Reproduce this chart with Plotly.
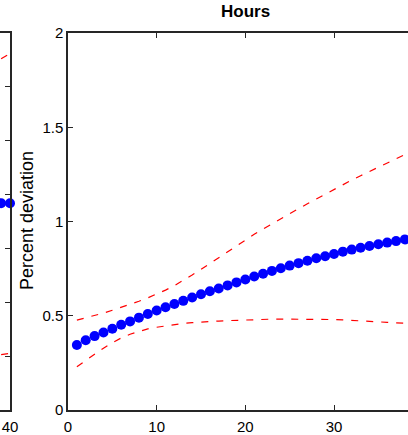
import plotly.graph_objects as go

# ---- data ----
periods = list(range(1, 41))
hours_irf = [0.345, 0.370, 0.392, 0.411, 0.431, 0.452, 0.470, 0.490, 0.509, 0.528,
             0.545, 0.562, 0.579, 0.597, 0.614, 0.630, 0.645, 0.661, 0.677, 0.692,
             0.708, 0.723, 0.738, 0.752, 0.766, 0.779, 0.792, 0.805, 0.816, 0.828,
             0.840, 0.851, 0.861, 0.870, 0.879, 0.888, 0.896, 0.905, 0.913, 0.921]
hours_upper = [0.477, 0.488, 0.500, 0.514, 0.529, 0.544, 0.560, 0.577, 0.595, 0.614,
               0.636, 0.660, 0.687, 0.716, 0.746, 0.777, 0.808, 0.840, 0.872, 0.903,
               0.932, 0.960, 0.988, 1.015, 1.042, 1.068, 1.094, 1.120, 1.145, 1.170,
               1.195, 1.220, 1.243, 1.266, 1.288, 1.310, 1.333, 1.356, 1.378, 1.400]
hours_lower = [0.230, 0.263, 0.296, 0.328, 0.357, 0.382, 0.402, 0.418, 0.430, 0.439,
               0.447, 0.454, 0.459, 0.463, 0.467, 0.470, 0.472, 0.474, 0.476, 0.478,
               0.480, 0.481, 0.482, 0.482, 0.482, 0.482, 0.482, 0.481, 0.481, 0.480,
               0.478, 0.476, 0.473, 0.470, 0.467, 0.465, 0.462, 0.460, 0.459, 0.458]

# neighbouring panel (only its last periods are visible)
prev_periods = [39, 40]
prev_irf = [3.84, 3.84]
prev_upper = [6.52, 6.62]
prev_lower = [1.03, 1.05]

y_ticks = [0, 0.5, 1, 1.5, 2]
x_ticks = [0, 10, 20, 30, 40]
title_text = "Hours"
ylabel_text = "Percent deviation"

W, H = 408, 435
FONT = "Liberation Sans, Arial, sans-serif"
AX = "#262626"
TICKSIZE = 15

fig = go.Figure()

dash_line = dict(color="red", width=1.2, dash="7px,8px")

# main panel
fig.add_trace(go.Scatter(x=periods, y=hours_upper, mode="lines", line=dash_line,
                         xaxis="x", yaxis="y", showlegend=False))
fig.add_trace(go.Scatter(x=periods, y=hours_lower, mode="lines", line=dash_line,
                         xaxis="x", yaxis="y", showlegend=False))
fig.add_trace(go.Scatter(x=periods, y=hours_irf, mode="markers",
                         marker=dict(color="blue", size=10, line=dict(width=0)),
                         xaxis="x", yaxis="y", showlegend=False))

# left (previous) panel sliver
fig.add_trace(go.Scatter(x=prev_periods, y=prev_upper, mode="lines", line=dash_line,
                         xaxis="x2", yaxis="y2", showlegend=False))
fig.add_trace(go.Scatter(x=prev_periods, y=prev_lower, mode="lines", line=dash_line,
                         xaxis="x2", yaxis="y2", showlegend=False))
fig.add_trace(go.Scatter(x=prev_periods, y=prev_irf, mode="markers",
                         marker=dict(color="blue", size=10, line=dict(width=0)),
                         cliponaxis=False,
                         xaxis="x2", yaxis="y2", showlegend=False))

px_per_unit = 8.867
x_left = 68
main_xmax = (W - x_left) / px_per_unit
prev_xmin = 40 - 10 / px_per_unit

common = dict(ticks="inside", ticklen=5, tickwidth=1, tickcolor=AX,
              showline=True, linecolor=AX, linewidth=1.5,
              showgrid=False, zeroline=False, automargin=False)

fig.update_layout(
    width=W, height=H,
    margin=dict(l=0, r=0, t=33, b=25, autoexpand=False),
    paper_bgcolor="white", plot_bgcolor="white",
    xaxis=dict(domain=[x_left / W, 1], range=[0, main_xmax], tickvals=x_ticks,
               mirror="ticks", ticklabelstandoff=2,
               tickfont=dict(family=FONT, size=TICKSIZE, color="black"), **common),
    yaxis=dict(domain=[0, 1], range=[0, 2], tickvals=y_ticks, mirror=False,
               ticklabelstandoff=0,
               tickfont=dict(family=FONT, size=TICKSIZE, color="black"), **common),
    xaxis2=dict(domain=[0, 10 / W], range=[prev_xmin, 40], anchor="y2",
                tickvals=[40], mirror="ticks", ticklabelstandoff=2,
                tickfont=dict(family=FONT, size=TICKSIZE, color="black"), **common),
    yaxis2=dict(domain=[0, 1], range=[0, 7], anchor="x2", side="right",
                tickvals=[1, 2, 3, 4, 5, 6], showticklabels=False, mirror=False,
                **common),
    annotations=[
        dict(text="<b>" + title_text + "</b>", xref="paper", yref="paper",
             x=245 / W, y=(410 - 11.5) / 377, xanchor="center", yanchor="middle",
             showarrow=False, font=dict(family=FONT, size=17, color="black")),
        dict(text=ylabel_text, xref="paper", yref="paper",
             x=27 / W, y=(410 - 221) / 377, xanchor="center", yanchor="middle",
             textangle=-90, showarrow=False,
             font=dict(family=FONT, size=18, color="black")),
    ],
)

fig.write_html("out.html",
               config={"displayModeBar": False},
               post_script="document.body.style.margin='0';"
                           "document.body.style.overflow='hidden';")
